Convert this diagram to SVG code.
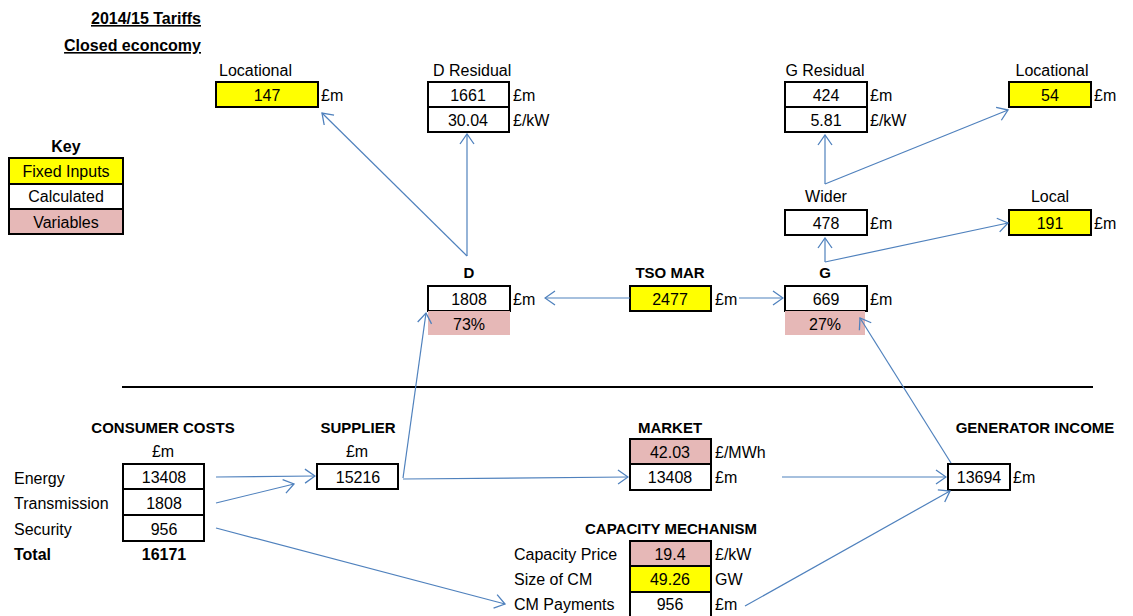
<svg xmlns="http://www.w3.org/2000/svg" width="1133" height="616" viewBox="0 0 1133 616">
<style>
text{font-family:"Liberation Sans",Arial,sans-serif;font-size:16px;fill:#000}
.b{font-weight:bold;font-size:15px}
.bl{font-weight:bold;font-size:16px}
.c{text-anchor:middle}
.bx{stroke:#000;stroke-width:2}
.y{fill:#FFFF00}
.w{fill:#FFFFFF}
.p{fill:#E6B8B7}
.cn{stroke:#4F81BD;stroke-width:1.2;fill:none;marker-end:url(#ah)}
</style>
<defs>
<marker id="ah" viewBox="0 0 12 16" refX="11" refY="8" markerWidth="12" markerHeight="16" markerUnits="userSpaceOnUse" orient="auto">
<path d="M1,1 L11,8 L1,15" fill="none" stroke="#4F81BD" stroke-width="1.3"/>
</marker>
</defs>
<rect width="1133" height="616" fill="#FFFFFF"/>

<g id="title">
<text class="bl" x="201" y="24" text-anchor="end" text-decoration="underline">2014/15 Tariffs</text>
<text class="bl" x="201" y="51" text-anchor="end" text-decoration="underline">Closed econcomy</text>
</g>

<g id="key">
<text class="bl c" x="66" y="152">Key</text>
<rect class="bx y" x="9" y="158" width="114" height="26"/>
<text class="c" x="66" y="177">Fixed Inputs</text>
<rect class="bx w" x="9" y="184" width="114" height="25"/>
<text class="c" x="66" y="202">Calculated</text>
<rect class="bx p" x="9" y="209" width="114" height="25"/>
<text class="c" x="66" y="228">Variables</text>
</g>

<g id="d-locational">
<text x="219" y="76">Locational</text>
<rect class="bx y" x="216" y="82" width="102" height="25"/>
<text class="c" x="267" y="101">147</text>
<text x="321" y="101">£m</text>
</g>

<g id="d-residual">
<text x="433" y="76">D Residual</text>
<rect class="bx w" x="428" y="82" width="81" height="25"/>
<text class="c" x="468" y="101">1661</text>
<text x="513" y="101">£m</text>
<rect class="bx w" x="428" y="107" width="81" height="25"/>
<text class="c" x="468" y="126">30.04</text>
<text x="513" y="126">£/kW</text>
</g>

<g id="d">
<text class="b c" x="469" y="278">D</text>
<rect class="bx w" x="428" y="286" width="82" height="25"/>
<text class="c" x="469" y="305">1808</text>
<text x="513" y="305">£m</text>
<rect class="p" x="428" y="311" width="82" height="24"/>
<text class="c" x="469" y="330">73%</text>
</g>

<g id="tso-mar">
<text class="b c" x="670" y="278">TSO MAR</text>
<rect class="bx y" x="630" y="286" width="81" height="25"/>
<text class="c" x="670" y="305">2477</text>
<text x="715" y="305">£m</text>
</g>

<g id="g">
<text class="b c" x="825" y="278">G</text>
<rect class="bx w" x="785" y="286" width="82" height="25"/>
<text class="c" x="826" y="305">669</text>
<text x="870" y="305">£m</text>
<rect class="p" x="785" y="311" width="80" height="24"/>
<text class="c" x="825" y="330">27%</text>
</g>

<g id="wider">
<text class="c" x="826" y="202">Wider</text>
<rect class="bx w" x="785" y="210" width="82" height="25"/>
<text class="c" x="826" y="229">478</text>
<text x="870" y="229">£m</text>
</g>

<g id="local">
<text class="c" x="1050" y="202">Local</text>
<rect class="bx y" x="1009" y="210" width="82" height="25"/>
<text class="c" x="1050" y="229">191</text>
<text x="1094" y="229">£m</text>
</g>

<g id="g-residual">
<text class="c" x="825" y="76">G Residual</text>
<rect class="bx w" x="785" y="82" width="82" height="25"/>
<text class="c" x="826" y="101">424</text>
<text x="870" y="101">£m</text>
<rect class="bx w" x="785" y="107" width="82" height="25"/>
<text class="c" x="826" y="126">5.81</text>
<text x="870" y="126">£/kW</text>
</g>

<g id="g-locational">
<text class="c" x="1052" y="76">Locational</text>
<rect class="bx y" x="1009" y="82" width="82" height="25"/>
<text class="c" x="1050" y="101">54</text>
<text x="1094" y="101">£m</text>
</g>

<g id="divider">
<line x1="122" y1="387" x2="1093" y2="387" stroke="#000" stroke-width="2"/>
</g>

<g id="consumer-costs">
<text class="b c" x="163" y="433">CONSUMER COSTS</text>
<text class="c" x="163" y="457">£m</text>
<text x="14" y="484">Energy</text>
<text x="14" y="509">Transmission</text>
<text x="14" y="535">Security</text>
<text class="bl" x="14" y="560">Total</text>
<rect class="bx w" x="123" y="464" width="81" height="25"/>
<text class="c" x="164" y="483">13408</text>
<rect class="bx w" x="123" y="489" width="81" height="26"/>
<text class="c" x="164" y="509">1808</text>
<rect class="bx w" x="123" y="515" width="81" height="26"/>
<text class="c" x="164" y="535">956</text>
<text class="bl c" x="164" y="560">16171</text>
</g>

<g id="supplier">
<text class="b c" x="358" y="433">SUPPLIER</text>
<text class="c" x="357" y="457">£m</text>
<rect class="bx w" x="317" y="464" width="81" height="25"/>
<text class="c" x="358" y="483">15216</text>
</g>

<g id="market">
<text class="b c" x="670" y="433">MARKET</text>
<rect class="bx p" x="630" y="439" width="81" height="25"/>
<text class="c" x="670" y="458">42.03</text>
<text x="715" y="458">£/MWh</text>
<rect class="bx w" x="630" y="464" width="81" height="26"/>
<text class="c" x="670" y="483">13408</text>
<text x="715" y="483">£m</text>
</g>

<g id="generator-income">
<text class="b c" x="1035" y="433">GENERATOR INCOME</text>
<rect class="bx w" x="948" y="464" width="62" height="26"/>
<text class="c" x="979" y="483">13694</text>
<text x="1013" y="483">£m</text>
</g>

<g id="capacity-mechanism">
<text class="b c" x="671" y="534">CAPACITY MECHANISM</text>
<text x="514" y="560">Capacity Price</text>
<text x="514" y="585">Size of CM</text>
<text x="514" y="610">CM Payments</text>
<rect class="bx p" x="630" y="541" width="81" height="25"/>
<text class="c" x="670" y="560">19.4</text>
<text x="715" y="560">£/kW</text>
<rect class="bx y" x="630" y="566" width="81" height="26"/>
<text class="c" x="670" y="585">49.26</text>
<text x="715" y="585">GW</text>
<rect class="bx w" x="630" y="592" width="81" height="26"/>
<text class="c" x="670" y="610">956</text>
<text x="715" y="610">£m</text>
</g>

<g id="connectors">
<line class="cn" x1="467" y1="256" x2="467" y2="134"/>
<line class="cn" x1="467" y1="256" x2="322" y2="113"/>
<line class="cn" x1="403" y1="478" x2="426" y2="313"/>
<line class="cn" x1="630" y1="298" x2="545" y2="298"/>
<line class="cn" x1="739" y1="298" x2="783" y2="298"/>
<line class="cn" x1="951" y1="463" x2="860" y2="318"/>
<line class="cn" x1="825" y1="262" x2="825" y2="238"/>
<line class="cn" x1="825" y1="262" x2="1008" y2="223"/>
<line class="cn" x1="825" y1="184" x2="825" y2="135"/>
<line class="cn" x1="825" y1="184" x2="1008" y2="110"/>
<line class="cn" x1="216" y1="477" x2="315" y2="476"/>
<line class="cn" x1="216" y1="503" x2="294" y2="484"/>
<line class="cn" x1="216" y1="528" x2="505" y2="604"/>
<line class="cn" x1="403" y1="479" x2="628" y2="477"/>
<line class="cn" x1="782" y1="477" x2="946" y2="477"/>
<line class="cn" x1="745" y1="606" x2="950" y2="491"/>
</g>
</svg>
